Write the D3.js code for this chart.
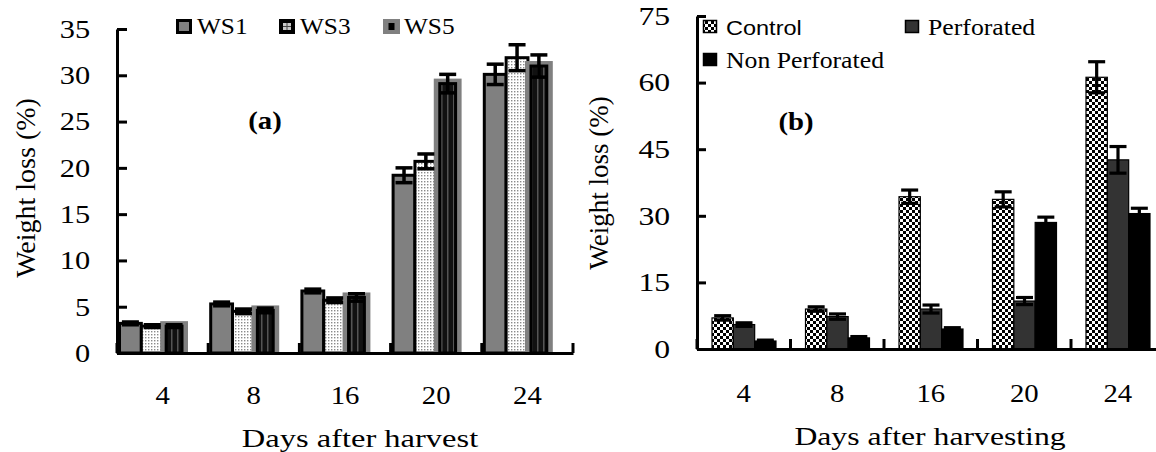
<!DOCTYPE html>
<html>
<head>
<meta charset="utf-8">
<script src="https://cdn.jsdelivr.net/npm/d3@7"></script>
<style>
  html, body { margin: 0; padding: 0; background: #fff; }
  svg { display: block; }
  text { font-family: "Liberation Serif", "Times New Roman", serif; fill: #000; }
</style>
</head>
<body>
<svg id="chart" width="1156" height="452"></svg>
<script>
// ---------- DATA ----------
const days = ["4", "8", "16", "20", "24"];

// Panel (a)
const seriesA = ["WS1", "WS3", "WS5"];
const ws1 = [3.2, 5.3, 6.7, 19.2, 30.1];
const ws3 = [2.9, 4.5, 5.7, 20.7, 31.9];
const ws5 = [2.9, 4.6, 6.0, 29.1, 31.0];
const ws1Err = [0.15, 0.2, 0.2, 0.8, 1.1];
const ws3Err = [0.15, 0.25, 0.25, 0.8, 1.4];
const ws5Err = [0.15, 0.25, 0.4, 1.0, 1.2];
const yTicksA = [0, 5, 10, 15, 20, 25, 30, 35];

// Panel (b)
const seriesB = ["Control", "Perforated", "Non Perforated"];
const control = [7.0, 9.0, 34.3, 33.7, 61.2];
const perforated = [5.5, 7.3, 9.0, 10.8, 42.6];
const nonPerforated = [1.8, 2.5, 4.5, 28.5, 30.5];
const controlErr = [0.5, 0.5, 1.5, 1.7, 3.5];
const perforatedErr = [0.4, 0.6, 0.9, 0.8, 3.0];
const nonPerforatedErr = [0.2, 0.3, 0.3, 1.2, 1.2];
const yTicksB = [0, 15, 30, 45, 60, 75];

// ---------- SETUP ----------
const svg = d3.select("#chart");
const defs = svg.append("defs");
const SERIF = "'Liberation Serif', 'Times New Roman', serif";
const SANS = "'Liberation Sans', Arial, sans-serif";

// dotted pattern (WS3)
const pDot = defs.append("pattern").attr("id", "dots").attr("patternUnits", "userSpaceOnUse")
  .attr("width", 3).attr("height", 3);
pDot.append("rect").attr("width", 3).attr("height", 3).attr("fill", "#ffffff");
pDot.append("rect").attr("x", 1).attr("y", 1).attr("width", 1.4).attr("height", 1.4).attr("fill", "#8a8a8a");

// vertical stripes (WS5 inner)
const pStr = defs.append("pattern").attr("id", "vstripes").attr("patternUnits", "userSpaceOnUse")
  .attr("width", 6).attr("height", 6);
pStr.append("rect").attr("width", 6).attr("height", 6).attr("fill", "#111");
pStr.append("rect").attr("x", 3).attr("width", 1.5).attr("height", 6).attr("fill", "#555");

// checkerboard (Control)
const pChk = defs.append("pattern").attr("id", "checker").attr("patternUnits", "userSpaceOnUse")
  .attr("width", 6).attr("height", 6);
pChk.append("rect").attr("width", 6).attr("height", 6).attr("fill", "#fff");
pChk.append("rect").attr("width", 3).attr("height", 3).attr("fill", "#000");
pChk.append("rect").attr("x", 3).attr("y", 3).attr("width", 3).attr("height", 3).attr("fill", "#000");

function styleAxis(g) {
  g.attr("font-family", null);
  g.selectAll("path.domain").attr("stroke", "#000").attr("stroke-width", 3);
  g.selectAll(".tick line").attr("stroke", "#000").attr("stroke-width", 3);
  g.selectAll(".tick text").style("font-family", SERIF);
}

// stretched text helper
function sText(g, x, y, str, size, sx, anchor, opts = {}) {
  const t = g.append("text")
    .attr("transform", `translate(${x},${y}) scale(${sx},1)`)
    .attr("text-anchor", anchor)
    .style("font-size", size + "px")
    .style("font-family", opts.font || SERIF)
    .text(str);
  if (opts.bold) t.style("font-weight", "bold");
  return t;
}

// ---------- PANEL (a) ----------
{
  const x = d3.scaleBand().domain(days).range([117, 573]).padding(0);
  const xs = d3.scaleBand().domain(seriesA).range([2.5, 68]).padding(0);
  const y = d3.scaleLinear().domain([0, 35]).range([353, 29]);
  const vals = { WS1: ws1, WS3: ws3, WS5: ws5 };
  const errs = { WS1: ws1Err, WS3: ws3Err, WS5: ws5Err };
  const g = svg.append("g");

  days.forEach((d, i) => {
    const x0 = x(d);
    g.append("rect").attr("x", x0 + xs("WS1")).attr("y", y(ws1[i]))
      .attr("width", xs.bandwidth()).attr("height", y(0) - y(ws1[i]))
      .attr("fill", "#808080").attr("stroke", "#000").attr("stroke-width", 3);
    g.append("rect").attr("x", x0 + xs("WS3")).attr("y", y(ws3[i]))
      .attr("width", xs.bandwidth()).attr("height", y(0) - y(ws3[i]))
      .attr("fill", "url(#dots)").attr("stroke", "#000").attr("stroke-width", 3);
    g.append("rect").attr("x", x0 + xs("WS5") - 3).attr("y", y(ws5[i]) - 5)
      .attr("width", xs.bandwidth() + 6).attr("height", y(0) - y(ws5[i]) + 5)
      .attr("fill", "#808080");
    g.append("rect").attr("x", x0 + xs("WS5") + 3).attr("y", y(ws5[i]))
      .attr("width", xs.bandwidth() - 6).attr("height", y(0) - y(ws5[i]))
      .attr("fill", "url(#vstripes)").attr("stroke", "#000").attr("stroke-width", 3);
  });

  seriesA.forEach(s => {
    days.forEach((d, i) => {
      const cx = x(d) + xs(s) + xs.bandwidth() / 2;
      const v = vals[s][i], e = errs[s][i];
      const cw = 8.5;
      g.append("line").attr("x1", cx).attr("x2", cx).attr("y1", y(v - e)).attr("y2", y(v + e))
        .attr("stroke", "#000").attr("stroke-width", 3.5);
      [v - e, v + e].forEach(t => g.append("line").attr("x1", cx - cw).attr("x2", cx + cw)
        .attr("y1", y(t)).attr("y2", y(t)).attr("stroke", "#000").attr("stroke-width", 3.5));
    });
  });

  const ya = g.append("g").attr("transform", "translate(117,0)")
    .call(d3.axisLeft(y).tickValues(yTicksA).tickSizeInner(-10).tickSizeOuter(0).tickPadding(23));
  styleAxis(ya);
  ya.selectAll(".tick text").style("font-size", "26px").attr("transform", "scale(1.17,1)");

  const xa = g.append("g").attr("transform", "translate(0,353)")
    .call(d3.axisBottom(x).tickSize(0).tickPadding(33));
  styleAxis(xa);
  xa.selectAll(".tick text").style("font-size", "25px").attr("transform", "scale(1.15,1)");
  const bounds = days.map(d => x(d)).concat([x.range()[1]]);
  g.selectAll(".btick").data(bounds).enter().append("line")
    .attr("x1", d => d).attr("x2", d => d).attr("y1", 353).attr("y2", 343)
    .attr("stroke", "#000").attr("stroke-width", 3);

  sText(g, 360, 447, "Days after harvest", 26, 1.25, "middle");
  g.append("text").attr("transform", "translate(35,188) rotate(-90)").attr("text-anchor", "middle")
    .style("font-size", "28px").text("Weight loss (%)");
  sText(g, 265, 129, "(a)", 25, 1.15, "middle", { bold: true });

  const legX = [176, 279, 383];
  seriesA.forEach((s, i) => {
    const lx = legX[i], ly = 19;
    if (s === "WS1") {
      g.append("rect").attr("x", lx + 1.5).attr("y", ly + 1.5).attr("width", 13).attr("height", 12)
        .attr("fill", "#808080").attr("stroke", "#000").attr("stroke-width", 3);
    } else if (s === "WS3") {
      g.append("rect").attr("x", lx).attr("y", ly).attr("width", 16).attr("height", 15).attr("fill", "#000");
      g.append("rect").attr("x", lx + 4).attr("y", ly + 4).attr("width", 8).attr("height", 7).attr("fill", "#c8c8c8");
      g.append("rect").attr("x", lx + 7.5).attr("y", ly + 4).attr("width", 1).attr("height", 7).attr("fill", "#444");
      g.append("rect").attr("x", lx + 4).attr("y", ly + 7).attr("width", 8).attr("height", 1).attr("fill", "#444");
    } else {
      g.append("rect").attr("x", lx).attr("y", ly).attr("width", 17).attr("height", 15).attr("fill", "#808080");
      g.append("rect").attr("x", lx + 5.5).attr("y", ly + 4).attr("width", 6).attr("height", 7).attr("fill", "#000");
    }
    sText(g, lx + 21, ly + 14.5, s, 23, 1.1, "start");
  });
}

// ---------- PANEL (b) ----------
{
  const x = d3.scaleBand().domain(days).range([697, 1164.5]).padding(0);
  const xs = d3.scaleBand().domain(seriesB).range([15, 79]).padding(0);
  const y = d3.scaleLinear().domain([0, 75]).range([349, 16]);
  const vals = { "Control": control, "Perforated": perforated, "Non Perforated": nonPerforated };
  const errs = { "Control": controlErr, "Perforated": perforatedErr, "Non Perforated": nonPerforatedErr };
  const fills = { "Control": "url(#checker)", "Perforated": "#333333", "Non Perforated": "#000000" };
  const g = svg.append("g");

  seriesB.forEach(s => {
    g.selectAll(null).data(days).enter().append("rect")
      .attr("x", d => x(d) + xs(s)).attr("y", (d, i) => y(vals[s][i]))
      .attr("width", xs.bandwidth()).attr("height", (d, i) => y(0) - y(vals[s][i]))
      .attr("fill", fills[s]).attr("stroke", "#000").attr("stroke-width", 1.2);
  });

  seriesB.forEach(s => {
    days.forEach((d, i) => {
      const cx = x(d) + xs(s) + xs.bandwidth() / 2;
      const v = vals[s][i], e = errs[s][i];
      const cw = 8.5;
      g.append("line").attr("x1", cx).attr("x2", cx).attr("y1", y(v - e)).attr("y2", y(v + e))
        .attr("stroke", "#000").attr("stroke-width", 3.2);
      [v - e, v + e].forEach(t => g.append("line").attr("x1", cx - cw).attr("x2", cx + cw)
        .attr("y1", y(t)).attr("y2", y(t)).attr("stroke", "#000").attr("stroke-width", 3.2));
    });
  });

  const ya = g.append("g").attr("transform", "translate(697,0)")
    .call(d3.axisLeft(y).tickValues(yTicksB).tickSizeInner(-9).tickSizeOuter(0).tickPadding(22));
  styleAxis(ya);
  ya.selectAll(".tick text").style("font-size", "26px").attr("transform", "scale(1.22,1)");

  const xa = g.append("g").attr("transform", "translate(0,349)")
    .call(d3.axisBottom(x).tickSize(0).tickPadding(35));
  styleAxis(xa);
  xa.selectAll(".tick text").style("font-size", "25px").attr("transform", "scale(1.15,1)");
  const bounds = days.map(d => x(d)).concat([x.range()[1]]);
  g.selectAll(".btick").data(bounds).enter().append("line")
    .attr("x1", d => d).attr("x2", d => d).attr("y1", 349).attr("y2", 339)
    .attr("stroke", "#000").attr("stroke-width", 3);

  sText(g, 930, 445, "Days after harvesting", 26, 1.22, "middle");
  g.append("text").attr("transform", "translate(608,183) rotate(-90)").attr("text-anchor", "middle")
    .style("font-size", "27px").text("Weight loss (%)");
  sText(g, 796, 130, "(b)", 25, 1.15, "middle", { bold: true });

  const leg = [
    { s: "Control", x: 703, y: 20, font: SANS, size: 21 },
    { s: "Perforated", x: 905, y: 20, font: SERIF, size: 23 },
    { s: "Non Perforated", x: 703, y: 53, font: SERIF, size: 23 }
  ];
  leg.forEach(l => {
    g.append("rect").attr("x", l.x + 0.5).attr("y", l.y + 0.5).attr("width", 13).attr("height", 12)
      .attr("fill", fills[l.s]).attr("stroke", "#000").attr("stroke-width", 1.5);
    sText(g, l.x + 23, l.y + 15, l.s, l.size, 1.12, "start", { font: l.font });
  });
}
</script>
</body>
</html>
